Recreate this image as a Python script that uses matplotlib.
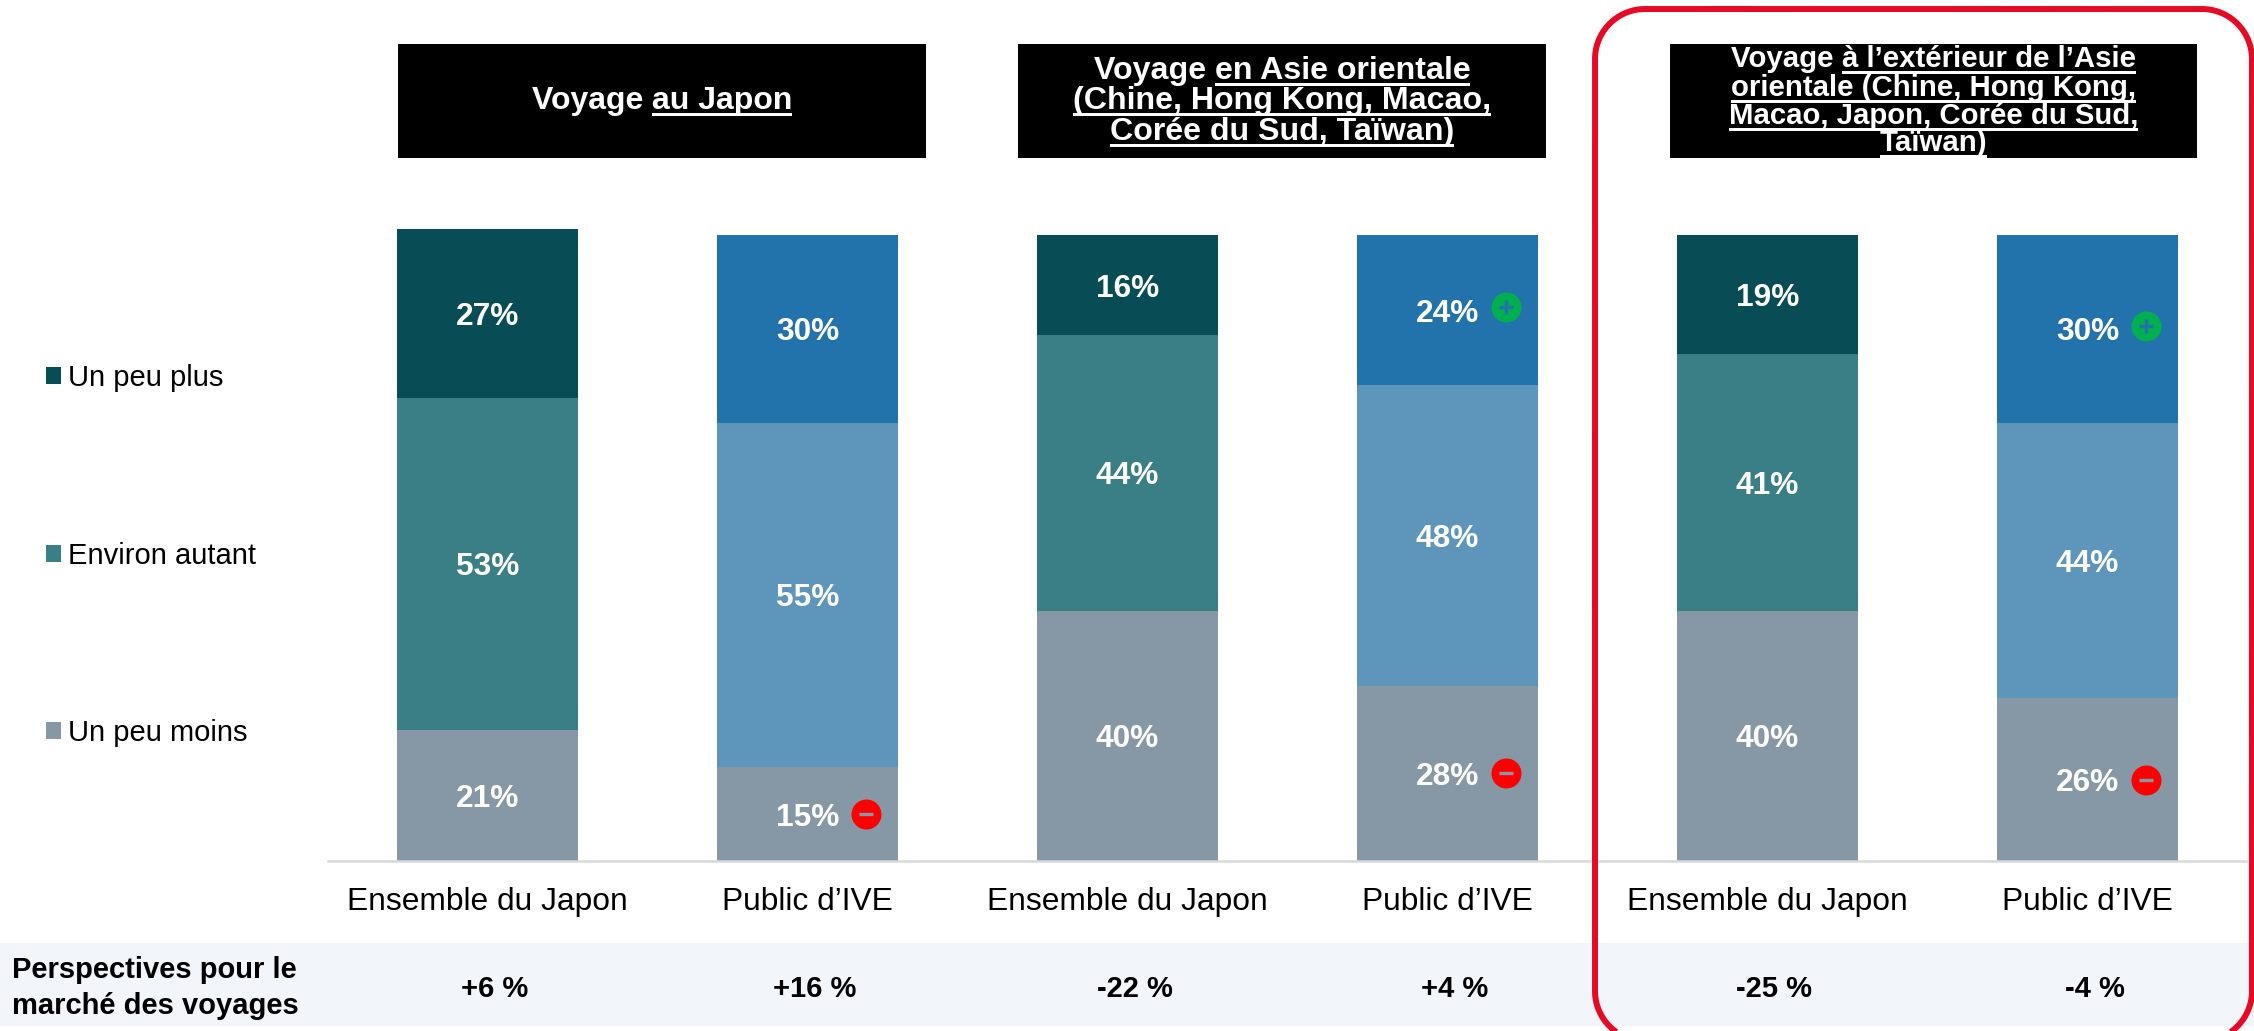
import numpy as np
import matplotlib
matplotlib.use("Agg")
import matplotlib.pyplot as plt
from matplotlib.patches import Patch, Rectangle

plt.rcParams['font.family'] = ['Liberation Sans', 'DejaVu Sans']

W, H = 2254, 1031

categories = ["Ensemble du Japon", "Public d’IVE"] * 3
moins = [21, 15, 40, 28, 40, 26]
autant = [53, 55, 44, 48, 41, 44]
plus = [27, 30, 16, 24, 19, 30]
perspectives = ["+6 %", "+16 %", "-22 %", "+4 %", "-25 %", "-4 %"]
legend_labels = ["Un peu plus", "Environ autant", "Un peu moins"]
row_title = ["Perspectives pour le", "marché des voyages"]
badges_plus = [3, 5]
badges_minus = [1, 3, 5]

DARK = ["#084C56", "#2272AB"]
MID = ["#3A7E86", "#5D95BB"]
GRAY = "#8698A5"

headers = [
    (398, 926, 23, [109],
     [[("Voyage ", False), ("au Japon", True)]]),
    (1018, 1546, 23.1, [79, 109, 140],
     [[("Voyage ", False), ("en Asie orientale", True)],
      [("(Chine, Hong Kong, Macao,", True)],
      [("Corée du Sud, Taïwan)", True)]]),
    (1670, 2197, 21.2, [67, 96, 124, 151],
     [[("Voyage ", False), ("à l’extérieur de l’Asie", True)],
      [("orientale (Chine, Hong Kong,", True)],
      [("Macao, Japon, Corée du Sud,", True)],
      [("Taïwan)", True)]]),
]

fig = plt.figure(figsize=(W / 100, H / 100), dpi=100, facecolor="white")

# pixel-space layer for the page furniture
bg = fig.add_axes([0, 0, 1, 1], zorder=0)
bg.set_xlim(0, W)
bg.set_ylim(H, 0)
bg.axis("off")
bg.add_patch(Rectangle((0, 943), W, 83, fc="#F2F5F9", ec="none"))

# chart axes: baseline at y=861 px, 100 % at y=235 px
left_px, base_px = 328, 861
ax = fig.add_axes([left_px / W, (H - base_px) / H, (W - left_px) / W, base_px / H], zorder=1)
ax.patch.set_alpha(0)
step, c0 = 320, 487.5
ax.set_xlim((left_px - c0) / step, (W - c0) / step)
ax.set_ylim(0, base_px / 6.26)
x = list(range(6))
width = 181 / step
dark = [DARK[i % 2] for i in x]
mid = [MID[i % 2] for i in x]
b2 = moins
b3 = [a + b for a, b in zip(moins, autant)]
ax.bar(x, moins, width, color=GRAY)
ax.bar(x, autant, width, bottom=b2, color=mid)
ax.bar(x, plus, width, bottom=b3, color=dark)

for i in x:
    for v, b in ((moins[i], 0), (autant[i], b2[i]), (plus[i], b3[i])):
        ax.text(i, b + v / 2, f"{v}%", ha="center", va="center_baseline", color="white",
                fontsize=22.8, fontweight="bold")

off = 58.5 / step
for i in badges_minus:
    y = moins[i] / 2
    ax.plot(i + off, y, "o", ms=21.6, mfc="#FF0000", mec="none")
    ax.plot(i + off, y, "_", ms=10, mew=2.4, color=GRAY)
for i in badges_plus:
    y = b3[i] + plus[i] / 2 + 0.45
    ax.plot(i + off, y, "o", ms=21.6, mfc="#00B050", mec="none")
    ax.plot(i + off, y, "+", ms=10, mew=2.4, color=DARK[1])

for s in ("top", "left", "right"):
    ax.spines[s].set_visible(False)
ax.spines["bottom"].set_color("#D9D9D9")
ax.spines["bottom"].set_linewidth(1.8)
ax.spines["bottom"].set_bounds((left_px - c0) / step, (2246 - c0) / step)
ax.set_yticks([])
ax.set_xticks(x, categories)
ax.tick_params(axis="x", length=0, pad=19, labelsize=22.9, labelcolor="black")

# overlay for headers / row / frame
top = fig.add_axes([0, 0, 1, 1], zorder=2)
top.set_xlim(0, W)
top.set_ylim(H, 0)
top.axis("off")
top.patch.set_alpha(0)

for i in x:
    top.text(c0 + step * i + 7, 986, perspectives[i], ha="center",
             va="center_baseline", fontsize=21, fontweight="bold", color="black")
top.text(12, 978, row_title[0], ha="left", va="baseline", fontsize=21, fontweight="bold", color="black")
top.text(12, 1014, row_title[1], ha="left", va="baseline", fontsize=21, fontweight="bold", color="black")

renderer = fig.canvas.get_renderer()


def text_w(s, fs):
    a = top.text(0, 0, s + "x", fontsize=fs, fontweight="bold")
    b = top.text(0, 0, "x", fontsize=fs, fontweight="bold")
    w = a.get_window_extent(renderer).width - b.get_window_extent(renderer).width
    a.remove()
    b.remove()
    return w


for x0, x1, fs, baselines, lines in headers:
    top.add_patch(Rectangle((x0, 44), x1 - x0, 114, fc="black", ec="none"))
    cx = (x0 + x1) / 2
    for yb, segs in zip(baselines, lines):
        total = text_w("".join(s for s, _u in segs), fs)
        cur = cx - total / 2
        for s, u in segs:
            w = text_w(s, fs)
            top.text(cur, yb, s, ha="left", va="baseline", color="white", fontsize=fs, fontweight="bold")
            if u:
                top.add_patch(Rectangle((cur, yb + 4), w, 3, fc="white", ec="none"))
            cur += w

# rounded highlight frame, open where it runs off the bottom of the page
fl, ft, fr, fb, rad = 1595, 9, 2252, 1041, 50


def arc(cx, cy, a0, a1):
    t = np.radians(np.linspace(a0, a1, 40))
    return cx + rad * np.cos(t), cy + rad * np.sin(t)


pieces = [arc(fl + rad, fb - rad, 115, 180), arc(fl + rad, ft + rad, 180, 270),
          arc(fr - rad, ft + rad, 270, 360), arc(fr - rad, fb - rad, 0, 65)]
top.plot(np.concatenate([p[0] for p in pieces]), np.concatenate([p[1] for p in pieces]),
         color="#E60A24", lw=4.3, solid_capstyle="butt", solid_joinstyle="round")
top.set_xlim(0, W)
top.set_ylim(H, 0)

handles = [Patch(fc=DARK[0]), Patch(fc=MID[0]), Patch(fc=GRAY)]
fig.legend(handles, legend_labels, loc="upper left", bbox_to_anchor=(46 / W, 1 - 364 / H),
           frameon=False, fontsize=21, labelcolor="black", borderpad=0, borderaxespad=0,
           handlelength=0.52, handleheight=0.52, handletextpad=0.24, labelspacing=5.126)

fig.savefig("out.png", dpi=100)
